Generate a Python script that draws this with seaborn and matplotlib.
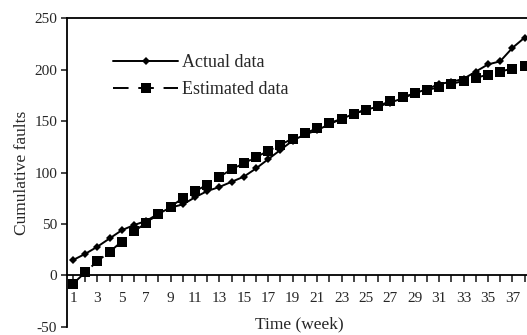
import numpy as np
import pandas as pd
import seaborn as sns
import matplotlib.pyplot as plt

weeks = list(range(1, 39))
actual = [15, 21, 28, 36, 44, 49, 53, 60, 66, 69, 76, 82, 86, 91, 96, 104, 113, 122, 131,
          137, 141, 147, 152, 157, 161, 164, 168, 172, 177, 181, 186, 188, 191, 198, 205, 208, 221, 231]
estimated = [-8, 3, 14, 23, 33, 43, 51, 60, 67, 75, 82, 88, 96, 103, 109, 115, 121, 127, 133,
             138, 143, 148, 152, 157, 161, 165, 169, 173, 177, 180, 183, 186, 189, 192, 195, 198, 201, 203]

df = pd.DataFrame({'week': weeks, 'Actual data': actual, 'Estimated data': estimated})

sns.set_style('ticks')
plt.rcParams['font.family'] = ['Liberation Serif', 'DejaVu Serif']
plt.rcParams['axes.unicode_minus'] = False

fig = plt.figure(figsize=(5.27, 3.35), dpi=100)
ax = fig.add_axes([0.127, 0.024, 0.873, 0.922])

sns.lineplot(data=df, x='week', y='Actual data', ax=ax, color='black', lw=1.4,
             marker='D', markersize=4.5, markeredgewidth=0, label='Actual data')
sns.lineplot(data=df, x='week', y='Estimated data', ax=ax, color='black', lw=1.4,
             marker='s', markersize=7, markeredgewidth=0, label='Estimated data')
ax.lines[1].set_dashes([8, 5])

ax.set_xlim(0.5, 38.2)
ax.set_ylim(-50, 250)
ax.set_yticks(range(-50, 251, 50))
ax.set_xticks(weeks)
ax.set_xticklabels([str(w) if w % 2 == 1 else '' for w in weeks])

# x axis sits at zero
ax.spines['bottom'].set_position(('data', 0))
ax.spines['right'].set_visible(False)
for s in ['left', 'top', 'bottom']:
    ax.spines[s].set_linewidth(1.3)
    ax.spines[s].set_color('black')

ax.tick_params(axis='x', direction='out', length=5, width=1.2, pad=7, labelsize=11)
ax.tick_params(axis='y', direction='out', length=4, width=1.2, pad=3, labelsize=11)

ax.set_xlabel('Time (week)', fontsize=12.5)
ax.xaxis.set_label_coords(0.506, 0.035)
ax.set_ylabel('Cumulative faults', fontsize=12.5, labelpad=3)

ax.legend(loc='upper left', bbox_to_anchor=(0.065, 0.935), frameon=False, fontsize=13,
          handlelength=3.6, handletextpad=0.2, labelspacing=0.55)

plt.savefig('out.png', dpi=100)
